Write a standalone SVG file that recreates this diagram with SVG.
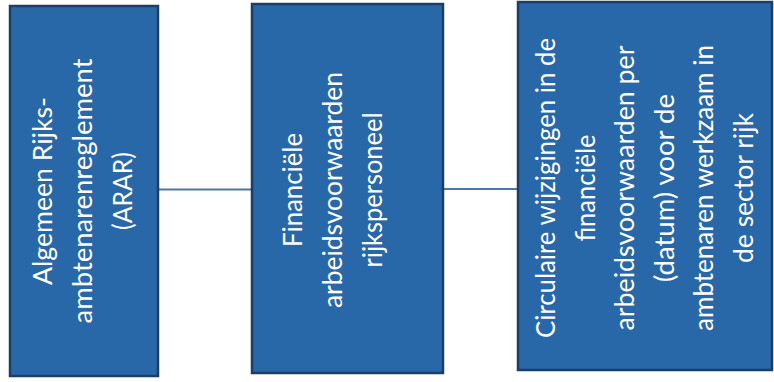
<svg xmlns="http://www.w3.org/2000/svg" width="774" height="382" viewBox="0 0 774 382">
<style>
.box{fill:#2968a8;stroke:#1c3e66;stroke-width:2.5}
.lbl{font-family:Lato,"Open Sans","Liberation Sans",sans-serif;font-size:26.5px;fill:#ffffff;text-anchor:middle}
.conn{stroke:#4f77a3;stroke-width:2;fill:none}
</style>
<rect width="774" height="382" fill="#ffffff"/>
<g id="connectors">
<line class="conn" x1="158" y1="189.5" x2="252" y2="189.5"/>
<line class="conn" x1="443" y1="189" x2="518" y2="189"/>
</g>
<g id="node1">
<rect class="box" x="10" y="6" width="148" height="370"/>
<text class="lbl" transform="translate(92,191) rotate(-90)"><tspan x="0" y="-40" textLength="188" lengthAdjust="spacingAndGlyphs">Algemeen Rijks-</tspan><tspan x="0" y="0" textLength="265" lengthAdjust="spacingAndGlyphs">ambtenarenreglement</tspan><tspan x="0" y="40" textLength="78" lengthAdjust="spacingAndGlyphs">(ARAR)</tspan></text>
</g>
<g id="node2">
<rect class="box" x="252" y="4" width="191" height="369"/>
<text class="lbl" transform="translate(342,190) rotate(-90)"><tspan x="0" y="-40" textLength="114" lengthAdjust="spacingAndGlyphs">Financiële</tspan><tspan x="0" y="0" textLength="236" lengthAdjust="spacingAndGlyphs">arbeidsvoorwaarden</tspan><tspan x="0" y="40" textLength="155" lengthAdjust="spacingAndGlyphs">rijkspersoneel</tspan></text>
</g>
<g id="node3">
<rect class="box" x="518" y="2" width="254" height="368"/>
<text class="lbl" transform="translate(654,188) rotate(-90)"><tspan x="0" y="-99" textLength="300" lengthAdjust="spacingAndGlyphs">Circulaire wijzigingen in de</tspan><tspan x="0" y="-59.4" textLength="107" lengthAdjust="spacingAndGlyphs">financiële</tspan><tspan x="0" y="-19.8" textLength="285" lengthAdjust="spacingAndGlyphs">arbeidsvoorwaarden per</tspan><tspan x="0" y="19.8" textLength="188" lengthAdjust="spacingAndGlyphs">(datum) voor de</tspan><tspan x="0" y="59.4" textLength="286" lengthAdjust="spacingAndGlyphs">ambtenaren werkzaam in</tspan><tspan x="0" y="99" textLength="150" lengthAdjust="spacingAndGlyphs">de sector rijk</tspan></text>
</g>
</svg>
